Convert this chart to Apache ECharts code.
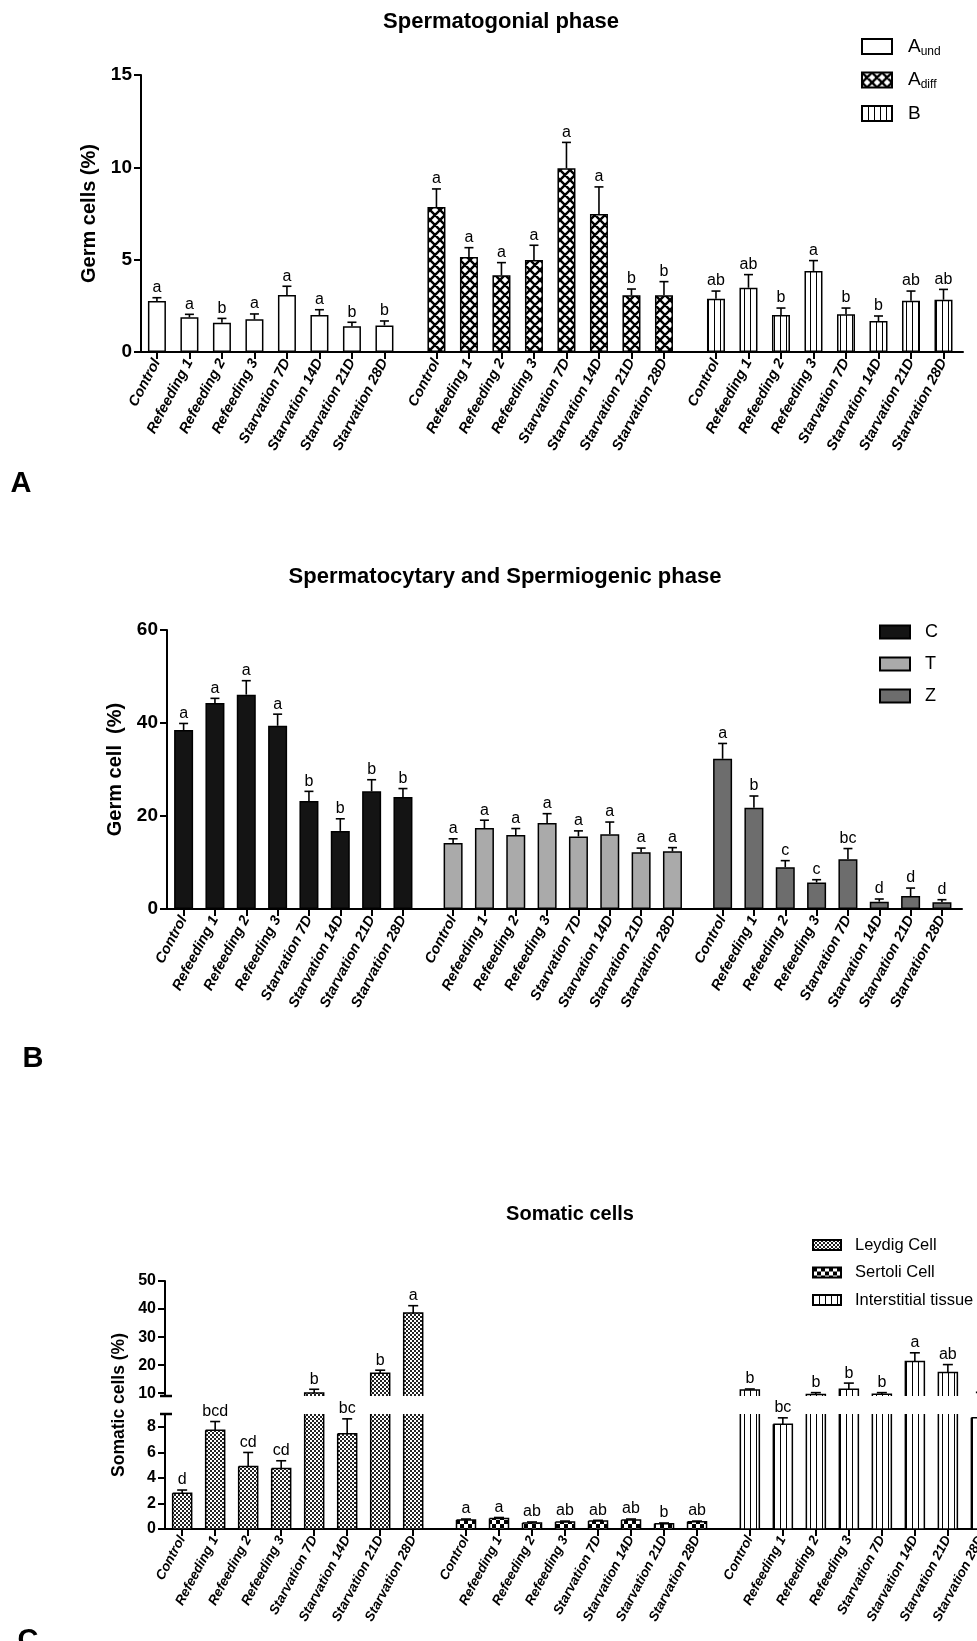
<!DOCTYPE html>
<html><head><meta charset="utf-8">
<script src="https://cdn.jsdelivr.net/npm/echarts@6/dist/echarts.min.js"></script>
<style>html,body{margin:0;padding:0;background:#fff}#c{width:977px;height:1641px}</style>
</head><body><div id="c"></div><script>
// ---------- DATA ----------
const categories = ['Control','Refeeding 1','Refeeding 2','Refeeding 3','Starvation 7D','Starvation 14D','Starvation 21D','Starvation 28D'];

// Panel A: Spermatogonial phase (mean, SEM, letters)
const aUnd      = [2.76, 1.88, 1.59, 1.77, 3.09, 2.00, 1.39, 1.44];
const aUndSem   = [0.18, 0.16, 0.23, 0.29, 0.47, 0.29, 0.22, 0.24];
const aUndLet   = ['a','a','b','a','a','a','b','b'];
const aDiff     = [7.85, 5.14, 4.15, 4.98, 9.95, 7.47, 3.07, 3.07];
const aDiffSem  = [0.98, 0.51, 0.69, 0.80, 1.40, 1.47, 0.34, 0.74];
const aDiffLet  = ['a','a','a','a','a','a','b','b'];
const bVals     = [2.89, 3.48, 2.00, 4.39, 2.04, 1.68, 2.78, 2.83];
const bSem      = [0.41, 0.71, 0.38, 0.56, 0.34, 0.27, 0.52, 0.56];
const bLet      = ['ab','ab','b','a','b','b','ab','ab'];
const ticksA    = [0, 5, 10, 15];

// Panel B: Spermatocytary and Spermiogenic phase
const cVals     = [38.5, 44.3, 46.1, 39.4, 23.2, 16.8, 25.3, 24.1];
const cSem      = [1.4, 1.0, 3.0, 2.5, 2.1, 2.6, 2.5, 1.8];
const cLet      = ['a','a','a','a','b','b','b','b'];
const tVals     = [14.2, 17.4, 15.9, 18.5, 15.6, 16.1, 12.2, 12.4];
const tSem      = [0.9, 1.7, 1.4, 2.0, 1.2, 2.6, 0.9, 0.8];
const tLet      = ['a','a','a','a','a','a','a','a'];
const zVals     = [32.3, 21.8, 9.0, 5.7, 10.7, 1.58, 2.8, 1.44];
const zSem      = [3.3, 2.5, 1.4, 0.6, 2.3, 0.57, 1.7, 0.56];
const zLet      = ['a','b','c','c','bc','d','d','d'];
const ticksB    = [0, 20, 40, 60];

// Panel C: Somatic cells (broken axis)
const leydig    = [2.79, 7.73, 4.90, 4.74, 10.1, 7.45, 17.1, 38.6];
const leydigSem = [0.26, 0.68, 1.09, 0.60, 1.3, 1.17, 1.1, 2.6];
const leydigLet = ['d','bcd','cd','cd','b','bc','b','a'];
const sertoli   = [0.70, 0.83, 0.47, 0.55, 0.62, 0.70, 0.42, 0.57];
const sertoliSem= [0.08, 0.07, 0.08, 0.07, 0.06, 0.08, 0.05, 0.05];
const sertoliLet= ['a','a','ab','ab','ab','ab','b','ab'];
const inter     = [11.1, 8.2, 9.5, 11.4, 9.6, 21.3, 17.4, 8.7];
const interSem  = [0.4, 0.5, 0.7, 2.2, 0.6, 3.1, 2.8, 1.6];
const interLet  = ['b','bc','b','b','b','a','ab','b'];
const ticksCLow = [0, 2, 4, 6, 8];
const ticksCUp  = [10, 20, 30, 40, 50];
const BREAK = 9;

// ---------- HELPERS ----------
const FONT = '"Liberation Sans", Arial, sans-serif';
const GAP = 0.6;
const pos = (g, i) => g * (categories.length + GAP) + i;
const xPositions = [0,1,2].flatMap(g => categories.map((_, i) => pos(g, i)));
const labelFor = v => {
  for (let g = 0; g < 3; g++) for (let i = 0; i < categories.length; i++)
    if (Math.abs(pos(g, i) - v) < 0.01) return categories[i];
  return '';
};

function pat(w, h, draw) {
  const c = document.createElement('canvas'); c.width = w; c.height = h;
  const g = c.getContext('2d'); g.fillStyle = '#fff'; g.fillRect(0, 0, w, h);
  draw(g, w, h); return { image: c, repeat: 'repeat' };
}
const crossPat = pat(10, 10, (g, w, h) => {
  g.strokeStyle = '#000'; g.lineWidth = 2.4; g.beginPath();
  for (const dx of [-w, 0, w]) { g.moveTo(dx, 0); g.lineTo(dx + w, h); g.moveTo(dx + w, 0); g.lineTo(dx, h); }
  g.stroke();
});
const vlinePat = pat(6, 4, (g) => { g.fillStyle = '#000'; g.fillRect(0, 0, 1, 4); });
const finePat = pat(4, 4, (g) => { g.fillStyle = '#222'; g.fillRect(0, 0, 2, 2); g.fillRect(2, 2, 2, 2); });
const coarsePat = pat(8, 8, (g) => { g.fillStyle = '#000'; g.fillRect(0, 0, 4, 4); g.fillRect(4, 4, 4, 4); });

const grids = [
  { left: 141, top: 75, width: 822, height: 277 },
  { left: 167, top: 630, width: 795, height: 279 },
  { left: 165, top: 1414, width: 836, height: 115 },
  { left: 165, top: 1281, width: 836, height: 115 }
];
const xRanges = [[-0.49, 24.80], [-0.53, 24.84], [-0.52, 24.81], [-0.52, 24.81]];

function xAx(gi, show, fs) {
  return {
    type: 'value', gridIndex: gi, min: xRanges[gi][0], max: xRanges[gi][1],
    axisLine: { show, onZero: false, lineStyle: { color: '#000', width: 2 } },
    axisTick: { show, customValues: xPositions, length: 7, lineStyle: { color: '#000', width: 2 } },
    axisLabel: { show, customValues: xPositions, formatter: labelFor, rotate: 62, fontSize: fs,
      fontWeight: 'bold', fontStyle: 'italic', color: '#000', fontFamily: FONT, margin: 8 },
    splitLine: { show: false }
  };
}
function yAx(gi, min, max, ticks, fs, name, nameGap, nameFs) {
  return {
    type: 'value', gridIndex: gi, min, max,
    axisLine: { show: true, onZero: false, lineStyle: { color: '#000', width: 2 } },
    axisTick: { show: true, customValues: ticks, length: 7, lineStyle: { color: '#000', width: 2 } },
    axisLabel: { customValues: ticks, fontSize: fs, fontWeight: 'bold', color: '#000', fontFamily: FONT, margin: 9 },
    splitLine: { show: false },
    name: name || '', nameLocation: 'middle', nameGap: nameGap || 0,
    nameTextStyle: { fontSize: nameFs || 16, fontWeight: 'bold', color: '#000', fontFamily: FONT }
  };
}
function barSeries(name, vals, g, ai, fill, bw) {
  return {
    type: 'bar', name, xAxisIndex: ai, yAxisIndex: ai, barWidth: bw, barGap: '-100%',
    data: vals.map((v, i) => [pos(g, i), v]),
    itemStyle: { color: fill, borderColor: '#000', borderWidth: 1.5 },
    emphasis: { disabled: true }, animation: false
  };
}
function errSeries(vals, sems, letters, g, ai, half, part) {
  return {
    type: 'custom', xAxisIndex: ai, yAxisIndex: ai, silent: true, z: 5, animation: false,
    data: vals.map((v, i) => [pos(g, i), v, sems[i]]), encode: { x: 0, y: 1 },
    renderItem: (params, api) => {
      const i = params.dataIndex, x = api.value(0), m = api.value(1), top = m + api.value(2);
      let a = m, b = top, cap = true;
      if (part === 'lower') { if (m >= BREAK) return null; b = Math.min(top, BREAK); cap = top <= BREAK; }
      else if (part === 'upper') { if (top <= BREAK) return null; a = Math.max(m, BREAK); }
      const p0 = api.coord([x, a]), p1 = api.coord([x, b]);
      const st = { stroke: '#000', lineWidth: 1.6 };
      const ch = [{ type: 'line', shape: { x1: p0[0], y1: p0[1], x2: p1[0], y2: p1[1] }, style: st }];
      if (cap) {
        ch.push({ type: 'line', shape: { x1: p1[0] - half, y1: p1[1], x2: p1[0] + half, y2: p1[1] }, style: st });
        ch.push({ type: 'text', x: p1[0], y: p1[1] - 2, style: { text: letters[i], fill: '#000',
          font: '16px ' + FONT, align: 'center', verticalAlign: 'bottom' } });
      }
      return { type: 'group', children: ch };
    }
  };
}
function brokenBars(name, vals, g, part, fill, bw) {
  const ai = part === 'lower' ? 2 : 3;
  return {
    type: 'custom', name, xAxisIndex: ai, yAxisIndex: ai, animation: false,
    data: vals.map((v, i) => [pos(g, i), v]), encode: { x: 0, y: 1 },
    itemStyle: { color: fill, borderColor: '#000', borderWidth: 1.5 },
    renderItem: (params, api) => {
      const x = api.value(0), v = api.value(1);
      let lo, hi, mode;
      if (part === 'lower') { lo = 0; hi = Math.min(v, BREAK); mode = v > BREAK ? 'openTop' : 'closed'; }
      else { if (v <= BREAK) return null; lo = BREAK; hi = v; mode = 'openBottom'; }
      const pLo = api.coord([x, lo]), pHi = api.coord([x, hi]);
      const l = pLo[0] - bw / 2, r = pLo[0] + bw / 2, top = pHi[1], bot = pLo[1];
      const pts = mode === 'openTop' ? [[l, top], [l, bot], [r, bot], [r, top]]
        : mode === 'openBottom' ? [[l, bot], [l, top], [r, top], [r, bot]]
        : [[l, top], [l, bot], [r, bot], [r, top], [l, top]];
      return { type: 'group', children: [
        { type: 'rect', shape: { x: l, y: top, width: bw, height: bot - top }, style: { fill: fill } },
        { type: 'polyline', shape: { points: pts }, style: { fill: null, stroke: '#000', lineWidth: 1.5 } }
      ] };
    }
  };
}

// ---------- OPTION ----------
const series = [
  barSeries('A_und', aUnd, 0, 0, '#fff', 18),
  barSeries('A_diff', aDiff, 1, 0, crossPat, 18),
  barSeries('B', bVals, 2, 0, vlinePat, 18),
  errSeries(aUnd, aUndSem, aUndLet, 0, 0, 4.5),
  errSeries(aDiff, aDiffSem, aDiffLet, 1, 0, 4.5),
  errSeries(bVals, bSem, bLet, 2, 0, 4.5),

  barSeries('C', cVals, 0, 1, '#141414', 19),
  barSeries('T', tVals, 1, 1, '#aaaaaa', 19),
  barSeries('Z', zVals, 2, 1, '#6d6d6d', 19),
  errSeries(cVals, cSem, cLet, 0, 1, 4.5),
  errSeries(tVals, tSem, tLet, 1, 1, 4.5),
  errSeries(zVals, zSem, zLet, 2, 1, 4.5)
];
[['Leydig Cell', leydig, leydigSem, leydigLet, 0, finePat],
 ['Sertoli Cell', sertoli, sertoliSem, sertoliLet, 1, coarsePat],
 ['Interstitial tissue', inter, interSem, interLet, 2, vlinePat]].forEach(([n, v, s, l, g, f]) => {
  series.push(brokenBars(n, v, g, 'lower', f, 19));
  series.push(brokenBars(n, v, g, 'upper', f, 19));
  series.push(errSeries(v, s, l, g, 2, 5, 'lower'));
  series.push(errSeries(v, s, l, g, 3, 5, 'upper'));
});

const titleStyle = fs => ({ fontSize: fs, fontWeight: 'bold', color: '#000', fontFamily: FONT });
const lowTop = grids[2].top, upBot = grids[3].top + grids[3].height, axX = grids[2].left;
const option = {
  backgroundColor: '#fff',
  animation: false,
  title: [
    { text: 'Spermatogonial phase', left: 496, top: 6, textAlign: 'center', textStyle: titleStyle(22) },
    { text: 'Spermatocytary and Spermiogenic phase', left: 500, top: 561, textAlign: 'center', textStyle: titleStyle(22) },
    { text: 'Somatic cells', left: 565, top: 1199, textAlign: 'center', textStyle: titleStyle(20) }
  ],
  legend: [
    { data: ['A_und', 'A_diff', 'B'], left: 861, top: 37, padding: 0, orient: 'vertical', icon: 'rect',
      itemWidth: 30, itemHeight: 15, itemGap: 13, selectedMode: false,
      formatter: n => n === 'A_und' ? '{a|A}{s|und}' : n === 'A_diff' ? '{a|A}{s|diff}' : '{a|B}',
      textStyle: { padding: [0, 0, 0, 11], rich: {
        a: { fontSize: 19, lineHeight: 22, color: '#000', fontFamily: FONT },
        s: { fontSize: 12, verticalAlign: 'bottom', color: '#000', fontFamily: FONT } } } },
    { data: ['C', 'T', 'Z'], left: 879, top: 622, padding: 0, orient: 'vertical', icon: 'rect',
      itemWidth: 30, itemHeight: 13, itemGap: 12, selectedMode: false,
      textStyle: { fontSize: 18, lineHeight: 20, color: '#000', fontFamily: FONT, padding: [0, 0, 0, 10] } },
    { data: ['Leydig Cell', 'Sertoli Cell', 'Interstitial tissue'], left: 812, top: 1235, padding: 0, orient: 'vertical', icon: 'rect',
      itemWidth: 28, itemHeight: 10, itemGap: 7.5, selectedMode: false,
      textStyle: { fontSize: 16.5, lineHeight: 20, color: '#000', fontFamily: FONT, padding: [0, 0, 0, 9] } }
  ],
  grid: grids.map(g => Object.assign({ outerBoundsMode: 'none', containLabel: false }, g)),
  xAxis: [xAx(0, true, 14.5), xAx(1, true, 14.5), xAx(2, true, 13.5), xAx(3, false, 13.5)],
  yAxis: [
    yAx(0, 0, 15, ticksA, 19, 'Germ cells (%)', 40, 20),
    yAx(1, 0, 60, ticksB, 19, 'Germ cell  (%)', 42, 20),
    yAx(2, 0, BREAK, ticksCLow, 16),
    yAx(3, BREAK, 50, ticksCUp, 16)
  ],
  graphic: [
    { type: 'text', x: 21, y: 484, style: { text: 'A', font: 'bold 29px "Liberation Sans Narrow", ' + FONT, fill: '#000', align: 'center', verticalAlign: 'middle' } },
    { type: 'text', x: 33, y: 1059, style: { text: 'B', font: 'bold 29px "Liberation Sans Narrow", ' + FONT, fill: '#000', align: 'center', verticalAlign: 'middle' } },
    { type: 'text', x: 28, y: 1641, style: { text: 'C', font: 'bold 29px "Liberation Sans Narrow", ' + FONT, fill: '#000', align: 'center', verticalAlign: 'middle' } },
    { type: 'text', x: 119, y: 1405, rotation: Math.PI / 2, style: { text: 'Somatic cells (%)', font: 'bold 17.5px ' + FONT, fill: '#000', align: 'center', verticalAlign: 'middle' } },
    { type: 'line', shape: { x1: axX - 5, y1: lowTop, x2: axX + 7, y2: lowTop }, style: { stroke: '#000', lineWidth: 2.5 } },
    { type: 'line', shape: { x1: axX - 5, y1: upBot, x2: axX + 7, y2: upBot }, style: { stroke: '#000', lineWidth: 2.5 } }
  ],
  series
};
const chart = echarts.init(document.getElementById('c'), null, { renderer: 'canvas' });
chart.setOption(option);
</script></body></html>
